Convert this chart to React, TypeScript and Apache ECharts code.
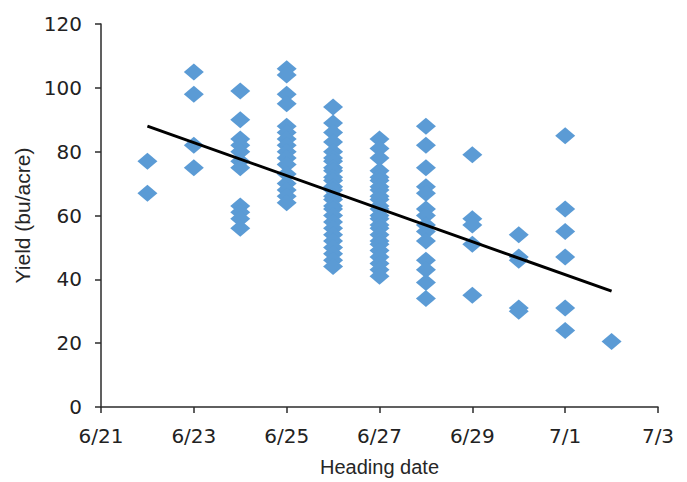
import React, { useEffect, useRef } from "react";
import * as echarts from "echarts";

// Heading dates (days after 6/21) and yields observed on each date
const headingDates = ["6/22", "6/23", "6/24", "6/25", "6/26", "6/27", "6/28", "6/29", "6/30", "7/1", "7/2"];
const yields_0622 = [77, 67];
const yields_0623 = [105, 98, 82, 75];
const yields_0624 = [99, 90, 84, 82, 80, 77, 75, 63, 61, 59, 56];
const yields_0625 = [106, 104, 98, 95, 88, 86, 84, 82, 80, 78, 76, 73, 70, 68, 66, 64];
const yields_0626 = [94, 89, 86, 83, 80, 78, 77, 75, 74, 72, 71, 69, 68, 66, 65, 63, 62, 60, 58, 56, 54, 52, 50, 48, 46, 44];
const yields_0627 = [84, 81, 78, 74, 72, 71, 69, 68, 66, 65, 63, 62, 60, 59, 57, 56, 54, 52, 51, 49, 47, 45, 43, 41];
const yields_0628 = [88, 82, 75, 69, 67, 62, 60, 57, 55, 52, 46, 43, 39, 34];
const yields_0629 = [79, 59, 57, 51, 35];
const yields_0630 = [54, 47, 46, 31, 30];
const yields_0701 = [85, 62, 55, 47, 31, 24];
const yields_0702 = [20.5];
const yieldsByDate = [
  yields_0622, yields_0623, yields_0624, yields_0625, yields_0626, yields_0627,
  yields_0628, yields_0629, yields_0630, yields_0701, yields_0702,
];

// Linear trend line endpoints (day offset, yield)
const trendDays = [1, 11];
const trendYields = [88, 36.3];

// Axis tick labels
const xTickLabels = ["6/21", "6/23", "6/25", "6/27", "6/29", "7/1", "7/3"];
const yTicks = [0, 20, 40, 60, 80, 100, 120];

function dayOffset(label: string): number {
  const [m, d] = label.split("/").map(Number);
  const base = new Date(2000, 5, 21).getTime();
  const t = new Date(2000, m - 1, d).getTime();
  return Math.round((t - base) / 86400000);
}

export default function App() {
  const ref = useRef<HTMLDivElement>(null);
  useEffect(() => {
    if (!ref.current) return;
    const chart = echarts.init(ref.current, undefined, { renderer: "svg" });
    const points: [number, number][] = [];
    headingDates.forEach((lab, i) => {
      const x = dayOffset(lab);
      yieldsByDate[i].forEach((y) => points.push([x, y]));
    });
    const trend = trendDays.map((d, i) => [d, trendYields[i]]);
    const axisColor = "#2b2b2b";
    const labelFont = "DejaVu Sans";
    chart.setOption({
      animation: false,
      backgroundColor: "#ffffff",
      grid: { left: 101, right: 29, top: 24, bottom: 74, containLabel: false },
      xAxis: {
        type: "value",
        min: 0,
        max: 12,
        interval: 2,
        name: "Heading date",
        nameLocation: "middle",
        nameGap: 50,
        nameTextStyle: { fontFamily: "Liberation Sans", fontSize: 20, color: "#262626" },
        axisLine: { show: true, onZero: false, lineStyle: { color: axisColor, width: 1.5 } },
        axisTick: { show: true, inside: false, length: 6, lineStyle: { color: axisColor, width: 1.5 } },
        axisLabel: {
          fontFamily: labelFont,
          fontSize: 20,
          color: "#222222",
          margin: 19,
          formatter: (v: number) => xTickLabels[Math.round(v / 2)] ?? "",
        },
        splitLine: { show: false },
      },
      yAxis: {
        type: "value",
        min: yTicks[0],
        max: yTicks[yTicks.length - 1],
        interval: 20,
        name: "Yield (bu/acre)",
        nameLocation: "middle",
        nameGap: 66,
        nameRotate: 90,
        nameTextStyle: { fontFamily: "Liberation Sans", fontSize: 21, color: "#262626" },
        axisLine: { show: true, lineStyle: { color: axisColor, width: 1.5 } },
        axisTick: { show: true, inside: false, length: 6, lineStyle: { color: axisColor, width: 1.5 } },
        axisLabel: { fontFamily: labelFont, fontSize: 20, color: "#222222", margin: 19 },
        splitLine: { show: false },
      },
      series: [
        {
          type: "scatter",
          data: points,
          symbol: "diamond",
          symbolSize: [20, 17],
          itemStyle: { color: "#5b9bd5", opacity: 1 },
          z: 2,
        },
        {
          type: "line",
          data: trend,
          symbol: "none",
          lineStyle: { color: "#000000", width: 3 },
          z: 3,
        },
      ],
    });
    return () => chart.dispose();
  }, []);
  return (
    <div
      ref={ref}
      style={{ position: "fixed", left: 0, top: 0, width: 687, height: 482 }}
    />
  );
}
